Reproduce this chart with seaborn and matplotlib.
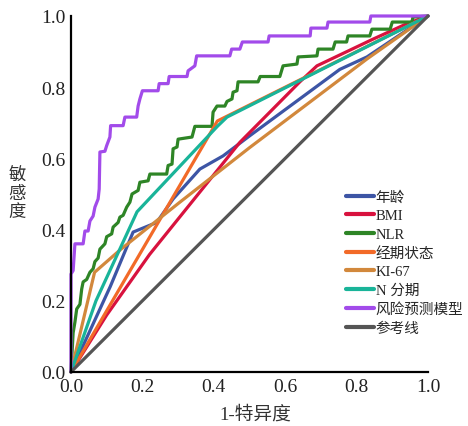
import pandas as pd
import seaborn as sns
import matplotlib.pyplot as plt

# ROC curve points (x = 1-specificity, y = sensitivity)
age_x = [0, 0.11, 0.174, 0.24, 0.286, 0.361, 0.426, 0.5, 0.753, 0.829, 1]
age_y = [0, 0.24, 0.393, 0.42, 0.486, 0.57, 0.607, 0.663, 0.85, 0.885, 1]

bmi_x = [0, 0.1, 0.22, 0.473, 0.641, 0.689, 0.846, 0.94, 1]
bmi_y = [0, 0.16, 0.33, 0.645, 0.815, 0.86, 0.935, 0.978, 1]

nlr_x = [0, 0.006, 0.011, 0.016, 0.025, 0.03, 0.034, 0.044, 0.053, 0.062, 0.067, 0.076,
         0.081, 0.095, 0.1, 0.114, 0.118, 0.132, 0.137, 0.146, 0.156, 0.165, 0.171, 0.188,
         0.193, 0.216, 0.221, 0.268, 0.272, 0.283, 0.286, 0.297, 0.3, 0.339, 0.347, 0.395,
         0.398, 0.409, 0.431, 0.437, 0.451, 0.454, 0.465, 0.468, 0.524, 0.53, 0.585, 0.594,
         0.633, 0.636, 0.689, 0.692, 0.734, 0.74, 0.772, 0.776, 0.837, 0.843, 0.894, 0.9,
         0.955, 0.958, 1]
nlr_y = [0, 0.11, 0.14, 0.177, 0.19, 0.233, 0.253, 0.26, 0.28, 0.29, 0.31, 0.32,
         0.345, 0.36, 0.38, 0.388, 0.407, 0.42, 0.435, 0.44, 0.463, 0.477, 0.5, 0.51,
         0.533, 0.537, 0.556, 0.556, 0.58, 0.584, 0.627, 0.632, 0.654, 0.66, 0.69, 0.69,
         0.73, 0.747, 0.747, 0.76, 0.767, 0.786, 0.79, 0.815, 0.815, 0.83, 0.83, 0.86,
         0.865, 0.885, 0.888, 0.907, 0.907, 0.927, 0.927, 0.944, 0.944, 0.963, 0.963, 0.983,
         0.983, 0.997, 1]

menses_x = [0, 0.41, 1]
menses_y = [0, 0.705, 1]

ki67_x = [0, 0.066, 0.14, 0.305, 0.5, 0.83, 1]
ki67_y = [0, 0.28, 0.345, 0.477, 0.63, 0.88, 1]

nstage_x = [0, 0.07, 0.185, 0.41, 0.437, 1]
nstage_y = [0, 0.2, 0.45, 0.69, 0.716, 1]

risk_x = [0, 0, 0.006, 0.011, 0.034, 0.039, 0.048, 0.053, 0.062, 0.067, 0.076, 0.079,
          0.081, 0.095, 0.1, 0.109, 0.111, 0.146, 0.151, 0.184, 0.188, 0.193, 0.2, 0.244,
          0.247, 0.272, 0.275, 0.325, 0.328, 0.347, 0.352, 0.445, 0.45, 0.473, 0.48, 0.552,
          0.555, 0.67, 0.672, 0.717, 0.72, 0.837, 0.84, 1]
risk_y = [0, 0.275, 0.285, 0.36, 0.36, 0.396, 0.396, 0.424, 0.438, 0.463, 0.486, 0.514,
          0.618, 0.62, 0.636, 0.66, 0.692, 0.692, 0.716, 0.716, 0.747, 0.767, 0.79, 0.79,
          0.81, 0.81, 0.83, 0.83, 0.846, 0.86, 0.888, 0.888, 0.907, 0.907, 0.927, 0.927,
          0.944, 0.944, 0.966, 0.966, 0.983, 0.983, 1.0, 1]

ref_x = [0, 1]
ref_y = [0, 1]

labels = ['年龄', 'BMI', 'NLR', '经期状态', 'KI-67', 'N 分期', '风险预测模型', '参考线']
colors = ['#3D55A5', '#D8123E', '#2E8526', '#F26A28', '#D2883C', '#19B499', '#A24BEA', '#555555']

curves = [(age_x, age_y), (bmi_x, bmi_y), (nlr_x, nlr_y), (menses_x, menses_y),
          (ki67_x, ki67_y), (nstage_x, nstage_y), (risk_x, risk_y), (ref_x, ref_y)]

rows = []
for name, (xs, ys) in zip(labels, curves):
    for i, (xv, yv) in enumerate(zip(xs, ys)):
        rows.append({'model': name, 'order': i, 'fpr': xv, 'tpr': yv})
data = pd.DataFrame(rows)

sns.set_style('white')
plt.rcParams['font.family'] = ['Liberation Serif', 'Noto Sans CJK SC', 'DejaVu Sans']

fig = plt.figure(figsize=(4.68, 4.27), dpi=100)
ax = fig.add_axes([0.1517, 0.1265, 0.7628, 0.8337])

sns.lineplot(data=data, x='fpr', y='tpr', hue='model', hue_order=labels,
             palette=dict(zip(labels, colors)), sort=False, estimator=None,
             units='model', linewidth=2.3, clip_on=False, ax=ax)

ax.set_xlim(0, 1)
ax.set_ylim(0, 1)
ticks = [0.0, 0.2, 0.4, 0.6, 0.8, 1.0]
ax.set_xticks(ticks)
ax.set_yticks(ticks)
ax.set_xticklabels([f'{t:.1f}' for t in ticks])
ax.set_yticklabels([f'{t:.1f}' for t in ticks])
ax.tick_params(length=0, labelsize=14, pad=4, colors='#222222')

for side in ['top', 'right']:
    ax.spines[side].set_visible(False)
for side in ['left', 'bottom']:
    ax.spines[side].set_color('black')
    ax.spines[side].set_linewidth(1.6)

ax.set_xlabel('1-特异度', fontsize=13.5, color='#333333', va='center')
ax.xaxis.set_label_coords(0.515, -0.118)
ax.set_ylabel('敏\n感\n度', fontsize=12.5, rotation=0, color='#333333',
              linespacing=1.15, ha='center', va='center')
ax.yaxis.set_label_coords(-0.151, 0.5)

leg = ax.legend(loc='upper left', bbox_to_anchor=(0.77, 0.51), frameon=False,
                fontsize=10.5, handlelength=1.9, handletextpad=0.15,
                labelspacing=0.36, borderaxespad=0, borderpad=0)
for line in leg.get_lines():
    line.set_linewidth(3)

fig.savefig('out.png', dpi=100)
